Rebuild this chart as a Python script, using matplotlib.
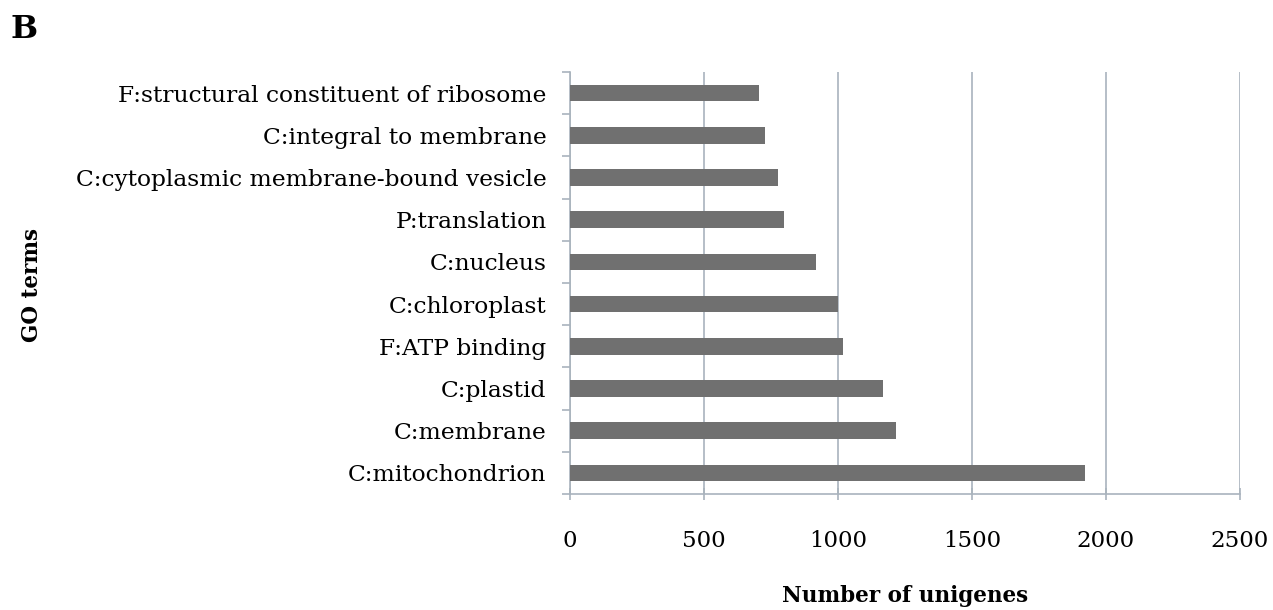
import numpy as np
import matplotlib.pyplot as plt

terms = ["C:mitochondrion", "C:membrane", "C:plastid", "F:ATP binding",
         "C:chloroplast", "C:nucleus", "P:translation",
         "C:cytoplasmic membrane-bound vesicle", "C:integral to membrane",
         "F:structural constituent of ribosome"]
counts = [1923, 1216, 1169, 1017, 1001, 918, 797, 776, 729, 704]
xticks = [0, 500, 1000, 1500, 2000, 2500]

plt.rcParams['font.family'] = ['DejaVu Serif']

fig = plt.figure(figsize=(12.73, 6.10), dpi=100)
ax = fig.add_axes([570 / 1273, 1 - 494 / 610, 670 / 1273, 422 / 610])

grid_col = '#a9b3bd'
y = np.arange(len(terms))
ax.barh(y, counts, height=0.39, color='#707070', zorder=3)

ax.set_xlim(0, 2500)
ax.set_ylim(-0.5, len(terms) - 0.5)
ax.set_xticks(xticks)
ax.set_xticklabels([str(v) for v in xticks], fontsize=16.5)
ax.grid(axis='x', color=grid_col, linewidth=1.2, zorder=0)

# category labels centred, tick marks on the boundaries
ax.set_yticks(y)
ax.set_yticklabels(terms, fontsize=16.8)
ax.set_yticks(np.arange(-0.5, len(terms)), minor=True)
ax.tick_params(axis='y', which='major', length=0, pad=17)
ax.tick_params(axis='y', which='minor', length=6, color=grid_col, width=1.2)
ax.tick_params(axis='x', length=8, color=grid_col, width=1.2, pad=22, direction='inout')

for s in ['top', 'right']:
    ax.spines[s].set_visible(False)
for s in ['left', 'bottom']:
    ax.spines[s].set_color(grid_col)
    ax.spines[s].set_linewidth(1.2)

fig.text(905 / 1273, 1 - 596 / 610, "Number of unigenes", fontsize=15.5,
         fontweight='bold', ha='center', va='center')
fig.text(32 / 1273, 1 - 285 / 610, "GO terms", fontsize=15.5,
         fontweight='bold', rotation=90, ha='center', va='center')
fig.text(10 / 1273, 1 - 29 / 610, "B", fontsize=23, fontweight='bold',
         ha='left', va='center')

fig.savefig("out.png", dpi=100, facecolor='white')
